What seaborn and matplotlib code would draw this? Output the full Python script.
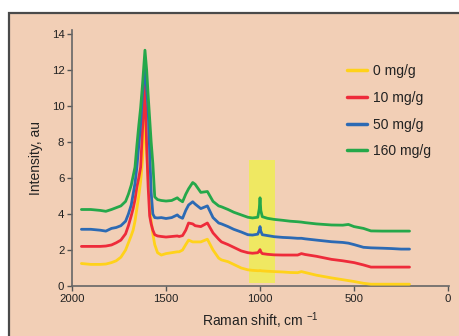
import numpy as np
import pandas as pd
import matplotlib
matplotlib.use("Agg")
import matplotlib.pyplot as plt
import matplotlib.patches as mpatches
import seaborn as sns

# ---------------- data ----------------
shift = [1950, 1900, 1850, 1820, 1790, 1765, 1740, 1715, 1700, 1685, 1675, 1665,
         1655, 1645, 1635, 1625, 1612, 1603, 1595, 1587, 1579, 1570, 1560, 1545,
         1525, 1500, 1470, 1440, 1430, 1412, 1395, 1380, 1358, 1345, 1315, 1280,
         1250, 1220, 1205, 1170, 1140, 1100, 1065, 1040, 1012, 1004, 1000, 996,
         988, 960, 925, 880, 840, 800, 780, 760, 700, 620, 560, 530, 500, 450,
         410, 350, 300, 250, 205]

y_0 = [1.25, 1.2, 1.2, 1.22, 1.3, 1.4, 1.6, 2.0, 2.4, 2.8, 3.1, 3.6,
       4.3, 5.0, 5.8, 7.0, 9.5, 7.5, 6.0, 4.8, 3.6, 2.9, 2.3, 1.85,
       1.72, 1.8, 1.85, 1.9, 1.9, 2.0, 2.3, 2.55, 2.45, 2.45, 2.45, 2.6,
       2.0, 1.55, 1.45, 1.35, 1.2, 1.0, 0.9, 0.87, 0.85, 0.85, 0.86, 0.85,
       0.84, 0.82, 0.8, 0.78, 0.75, 0.74, 0.8, 0.75, 0.6, 0.45, 0.35, 0.3, 0.25, 0.15,
       0.1, 0.1, 0.1, 0.1, 0.1]

y_10 = [2.2, 2.2, 2.2, 2.22, 2.28, 2.4, 2.55, 2.9, 3.35, 3.9, 4.3, 4.8,
        5.5, 6.0, 6.6, 8.7, 11.2, 7.8, 5.5, 3.9, 3.45, 3.1, 2.85, 2.78,
        2.75, 2.72, 2.75, 2.78, 2.75, 2.8, 3.1, 3.5, 3.45, 3.35, 3.3, 3.5,
        2.95, 2.6, 2.45, 2.3, 2.15, 1.95, 1.85, 1.82, 1.85, 1.95, 2.02, 1.9,
        1.8, 1.76, 1.73, 1.72, 1.72, 1.72, 1.8, 1.75, 1.65, 1.48, 1.4, 1.35, 1.3, 1.17,
        1.05, 1.05, 1.05, 1.05, 1.05]

y_50 = [3.15, 3.15, 3.1, 3.05, 3.2, 3.25, 3.35, 3.6, 4.0, 4.5, 5.1, 5.7,
        6.6, 7.8, 9.0, 10.7, 12.1, 11.0, 9.8, 7.5, 5.2, 4.0, 3.8, 3.78,
        3.8, 3.75, 3.8, 3.95, 3.85, 3.76, 4.2, 4.5, 4.68, 4.55, 4.3, 4.45,
        3.8, 3.5, 3.45, 3.3, 3.15, 3.0, 2.85, 2.83, 2.88, 3.1, 3.3, 3.05,
        2.85, 2.8, 2.74, 2.7, 2.68, 2.65, 2.65, 2.62, 2.55, 2.46, 2.42, 2.38, 2.3, 2.15,
        2.12, 2.1, 2.08, 2.05, 2.05]

y_160 = [4.25, 4.25, 4.2, 4.15, 4.25, 4.35, 4.45, 4.7, 5.1, 5.6, 6.1, 6.6,
         7.8, 8.9, 9.9, 11.2, 13.1, 12.0, 10.6, 9.3, 8.0, 6.8, 4.95, 4.8,
         4.75, 4.72, 4.75, 4.9, 4.8, 4.68, 5.1, 5.4, 5.75, 5.65, 5.2, 5.25,
         4.7, 4.45, 4.4, 4.25, 4.1, 3.95, 3.82, 3.78, 3.82, 4.3, 4.9, 4.2,
         3.85, 3.76, 3.7, 3.65, 3.6, 3.57, 3.55, 3.52, 3.45, 3.39, 3.38, 3.42, 3.3, 3.2,
         3.06, 3.05, 3.05, 3.05, 3.05]

series_labels = ["0 mg/g", "10 mg/g", "50 mg/g", "160 mg/g"]
series_values = [y_0, y_10, y_50, y_160]
colors = ["#FFD21A", "#EE2B3A", "#2C6AB4", "#25A84A"]

x_ticks = [2000, 1500, 1000, 500, 0]
y_ticks = [0, 2, 4, 6, 8, 10, 12, 14]
highlight_x = (920, 1058)
highlight_y = (0.15, 7.0)

# ---------------- build frame ----------------
frames = []
for lab, vals in zip(series_labels, series_values):
    frames.append(pd.DataFrame({"shift": shift, "intensity": vals, "sample": lab}))
df = pd.concat(frames, ignore_index=True)

sns.set_theme(style="white")
plt.rcParams["font.family"] = ["Liberation Sans", "DejaVu Sans"]
plt.rcParams["mathtext.default"] = "regular"

peach = "#F2CFB6"
fig = plt.figure(figsize=(4.6, 3.36), dpi=100, facecolor="white")
# background panel
panel = mpatches.Rectangle((9 / 460, -0.05), 1.0, 1 - 13 / 336 + 0.05,
                           transform=fig.transFigure, facecolor=peach,
                           edgecolor="#4a4a4a", linewidth=1.6, zorder=-10)
fig.patches.append(panel)

ax = fig.add_axes([72 / 460, 1 - 286 / 336, 377 / 460, (286 - 30.4) / 336])
ax.set_zorder(5)
ax.set_facecolor("none")

ax.fill_between(list(highlight_x), [highlight_y[0]] * 2, [highlight_y[1]] * 2,
                color="#EFE862", linewidth=0, zorder=1)

sns.lineplot(data=df, x="shift", y="intensity", hue="sample",
             hue_order=series_labels, palette=colors, estimator=None,
             linewidth=2.0, ax=ax, zorder=3)

ax.set_xlim(2000, -5)
ax.set_ylim(0, 14.2)
ax.set_xticks(x_ticks)
ax.set_yticks(y_ticks)
ax.tick_params(axis="both", direction="out", length=3.5, width=1.0,
               color="#555555", labelsize=8.2, labelcolor="#222222", pad=2)
ax.tick_params(axis="both", which="both", bottom=True, left=True)

for s in ["top", "right"]:
    ax.spines[s].set_visible(False)
for s in ["left", "bottom"]:
    ax.spines[s].set_color("#666666")
    ax.spines[s].set_linewidth(1.2)

ax.set_xlabel("Raman shift, cm $^{-1}$", fontsize=10, color="#222222", labelpad=5)
ax.set_ylabel("Intensity, au", fontsize=10, color="#222222", labelpad=6)

handles, labels = ax.get_legend_handles_labels()
leg = ax.legend(handles, labels, loc="upper left",
                bbox_to_anchor=(347 / 460, 1 - 64 / 336),
                bbox_transform=fig.transFigure, frameon=False, fontsize=10,
                handlelength=1.45, handletextpad=0.45, labelspacing=0.92,
                borderpad=0, borderaxespad=0)
for t in leg.get_texts():
    t.set_color("#222222")
for h in leg.get_lines():
    h.set_linewidth(2.5)

fig.savefig("out.png", dpi=100, facecolor="white")
